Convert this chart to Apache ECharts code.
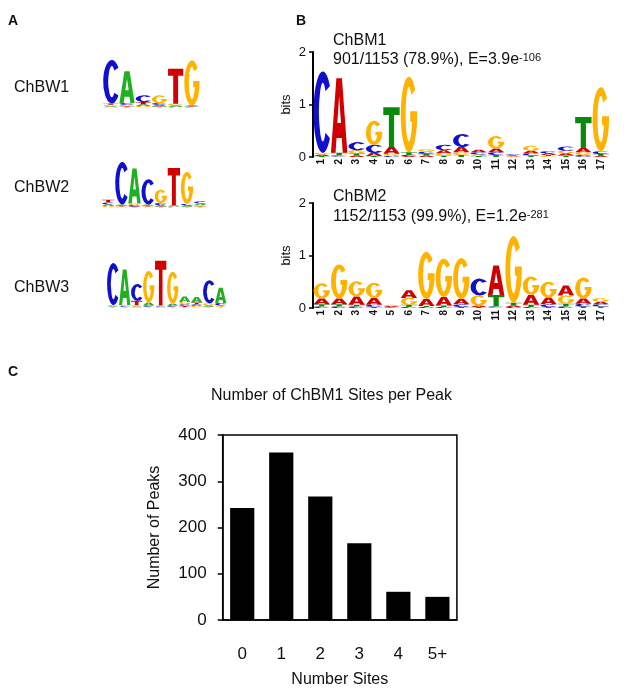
<!DOCTYPE html>
<html>
<head>
<meta charset="utf-8">
<script src="https://cdn.jsdelivr.net/npm/echarts@6/dist/echarts.min.js"></script>
<style>
  html, body { margin: 0; padding: 0; background: #fff; }
  #chart { width: 642px; height: 689px; }
</style>
</head>
<body>
<div id="chart"></div>
<script>
const FONT = "'Liberation Sans', Arial, Helvetica, sans-serif";

// panel C
const siteCategories = ['0', '1', '2', '3', '4', '5+'];
const peakCounts = [242, 362, 267, 166, 61, 50];

// logo positions (panel B)
const positions = ['1', '2', '3', '4', '5', '6', '7', '8', '9', '10', '11', '12', '13', '14', '15', '16', '17'];

// letter heights in bits, each row is [A, C, G, T]
const chbw1 = [
  [0.04, 1.55, 0.05, 0.05],
  [1.14, 0.06, 0.05, 0.04],
  [0.06, 0.23, 0.05, 0.08],
  [0.06, 0.06, 0.27, 0.03],
  [0.05, 0.02, 0.06, 1.25],
  [0.03, 0.02, 1.60, 0.02]
];
const chbw2 = [
  [0.06, 0.06, 0.05, 0.10],
  [0.04, 1.52, 0.03, 0.03],
  [1.25, 0.05, 0.06, 0.03],
  [0.04, 0.90, 0.03, 0.03],
  [0.05, 0.07, 0.48, 0.03],
  [0.03, 0.02, 0.02, 1.33],
  [0.05, 0.05, 1.14, 0.02],
  [0.06, 0.07, 0.05, 0.03]
];
const chbw3 = [
  [0.03, 1.50, 0.03, 0.02],
  [1.27, 0.03, 0.03, 0.02],
  [0.03, 0.60, 0.04, 0.16],
  [0.10, 0.05, 1.13, 0.02],
  [0.02, 0.02, 0.02, 1.60],
  [0.06, 0.05, 1.14, 0.02],
  [0.20, 0.06, 0.08, 0.05],
  [0.20, 0.06, 0.05, 0.06],
  [0.05, 0.83, 0.07, 0.02],
  [0.55, 0.08, 0.05, 0.02]
];
const chbm1 = [
  [0.03, 1.55, 0.03, 0.02],
  [1.42, 0.02, 0.01, 0.05],
  [0.03, 0.15, 0.06, 0.04],
  [0.06, 0.15, 0.46, 0.02],
  [0.13, 0.02, 0.04, 0.76],
  [0.02, 0.02, 1.44, 0.05],
  [0.03, 0.04, 0.05, 0.03],
  [0.06, 0.10, 0.04, 0.03],
  [0.10, 0.25, 0.05, 0.04],
  [0.05, 0.04, 0.03, 0.02],
  [0.07, 0.05, 0.24, 0.04],
  [0.01, 0.02, 0.01, 0.01],
  [0.05, 0.04, 0.09, 0.03],
  [0.03, 0.04, 0.02, 0.02],
  [0.04, 0.08, 0.05, 0.03],
  [0.08, 0.04, 0.05, 0.59],
  [0.02, 0.05, 1.22, 0.04]
];
const chbm2 = [
  [0.11, 0.03, 0.29, 0.04],
  [0.11, 0.03, 0.65, 0.04],
  [0.16, 0.03, 0.29, 0.03],
  [0.13, 0.04, 0.29, 0.02],
  [0.02, 0.01, 0.02, 0.01],
  [0.15, 0.02, 0.13, 0.04],
  [0.13, 0.02, 0.90, 0.02],
  [0.16, 0.02, 0.73, 0.03],
  [0.10, 0.05, 0.78, 0.02],
  [0.03, 0.32, 0.19, 0.02],
  [0.56, 0.02, 0.01, 0.22],
  [0.03, 0.02, 1.27, 0.05],
  [0.19, 0.02, 0.35, 0.04],
  [0.13, 0.05, 0.30, 0.02],
  [0.19, 0.03, 0.16, 0.05],
  [0.10, 0.05, 0.40, 0.03],
  [0.05, 0.04, 0.07, 0.03]
];

const BASES = ['A', 'C', 'G', 'T'];
// block letters drawn in a 100x100 box, stretched to each stack slot
const GLYPHS = {
  A: 'M0,100 L33,0 L67,0 L100,100 L72,100 L66,80 L34,80 L28,100 Z M39,60 L61,60 L50,24 Z',
  C: 'M88.3,17.9 A50,50 0 1 0 88.3,82.1 L64.1,75.5 A20,36 0 1 1 64.1,24.5 Z',
  G: 'M88.3,17.9 A50,50 0 1 0 100,56 L100,46 L58,46 L58,60 L69.2,60 A20,36 0 1 1 64.1,24.5 Z',
  T: 'M0,0 L100,0 L100,20 L66,20 L66,100 L34,100 L34,20 L0,20 Z'
};
const colorsA = { A: '#21b021', C: '#1010cc', G: '#ffb300', T: '#d00000' };
const colorsB = { A: '#d00000', C: '#1010cc', G: '#ffb300', T: '#0a8a0a' };

function renderLogo(colors) {
  return function (params, api) {
    const idx = api.value(0);
    const stack = BASES.map((b, i) => ({ b, h: api.value(i + 1) }))
      .sort((p, q) => p.h - q.h);
    const base = api.coord([idx, 0]);
    const bw = api.size([1, 0])[0] * 0.94;
    const unit = api.size([0, 1])[1];
    let y = base[1];
    const children = [];
    stack.forEach(item => {
      const hpx = item.h * unit;
      if (hpx < 0.3) return;
      children.push({
        type: 'path',
        shape: { pathData: GLYPHS[item.b], x: base[0] - bw / 2, y: y - hpx, width: bw, height: hpx, layout: 'cover' },
        style: { fill: colors[item.b] }
      });
      y -= hpx;
    });
    return { type: 'group', children };
  };
}

function logoSeries(rows, axisIndex, colors) {
  return {
    type: 'custom',
    xAxisIndex: axisIndex,
    yAxisIndex: axisIndex,
    clip: false,
    silent: true,
    encode: { x: 0, y: 1 },
    data: rows.map((r, i) => [i].concat(r)),
    renderItem: renderLogo(colors)
  };
}

function hiddenAxes(gridIndex, count) {
  return {
    x: { gridIndex, type: 'category', data: positions.slice(0, count), show: false },
    y: { gridIndex, type: 'value', min: 0, max: 2, show: false }
  };
}

function bitsAxes(gridIndex) {
  return {
    x: {
      gridIndex, type: 'category', data: positions,
      axisLine: { show: false }, axisTick: { show: false },
      axisLabel: { rotate: 90, margin: 2, fontSize: 10, fontWeight: 'bold', color: '#111', fontFamily: FONT, interval: 0 }
    },
    y: {
      gridIndex, type: 'value', min: 0, max: 2, interval: 1,
      name: 'bits', nameLocation: 'middle', nameGap: 20, nameRotate: 90,
      nameTextStyle: { fontSize: 13, color: '#111', fontFamily: FONT },
      axisLine: { show: true, lineStyle: { color: '#000', width: 2 } },
      axisTick: { show: true, length: 4, lineStyle: { color: '#000', width: 1.5 } },
      axisLabel: { fontSize: 13, margin: 7, color: '#111', fontFamily: FONT },
      splitLine: { show: false }
    }
  };
}

const axes = [
  hiddenAxes(0, 6), hiddenAxes(1, 8), hiddenAxes(2, 10),
  bitsAxes(3), bitsAxes(4)
];

const barX = {
  gridIndex: 5, type: 'category', data: siteCategories,
  name: 'Number Sites', nameLocation: 'middle', nameGap: 52,
  nameTextStyle: { fontSize: 16, color: '#111', fontFamily: FONT },
  axisLine: { lineStyle: { color: '#000', width: 1.5 } },
  axisTick: { length: 7, interval: 0, lineStyle: { color: '#000', width: 1.5 } },
  axisLabel: { fontSize: 17, margin: 26, color: '#111', fontFamily: FONT }
};
const barY = {
  gridIndex: 5, type: 'value', min: 0, max: 400, interval: 100,
  name: 'Number of Peaks', nameLocation: 'middle', nameGap: 60, nameRotate: 90,
  nameTextStyle: { fontSize: 16, color: '#111', fontFamily: FONT },
  axisLine: { show: true, lineStyle: { color: '#000', width: 1.5 } },
  axisTick: { show: true, length: 5, lineStyle: { color: '#000', width: 1.5 } },
  axisLabel: { fontSize: 17, margin: 16, color: '#111', fontFamily: FONT },
  splitLine: { show: false }
};

function label(text, x, y, size, weight) {
  return {
    type: 'text', x, y,
    style: { text, fontSize: size, fontWeight: weight || 'normal', fontFamily: FONT, fill: '#111', verticalAlign: 'middle' }
  };
}

function statLine(main, sup, x, y) {
  return {
    type: 'text', x, y,
    style: {
      text: '{m|' + main + '}{s|' + sup + '}',
      verticalAlign: 'middle',
      rich: {
        m: { fontSize: 16, fontFamily: FONT, fill: '#111', verticalAlign: 'bottom' },
        s: { fontSize: 11, fontFamily: FONT, fill: '#111', verticalAlign: 'top' }
      }
    }
  };
}

const chart = echarts.init(document.getElementById('chart'));
chart.setOption({
  animation: false,
  textStyle: { fontFamily: FONT },
  grid: [
    { left: 102.7, top: 51.3, width: 97.3, height: 56 },
    { left: 101.7, top: 151.3, width: 105, height: 56 },
    { left: 106.7, top: 251.3, width: 120, height: 56 },
    { left: 313, top: 52, width: 296.5, height: 105 },
    { left: 313, top: 203, width: 296.5, height: 105 },
    { left: 222.7, top: 435, width: 234.2, height: 189, show: true, borderColor: '#000', borderWidth: 1.5 }
  ],
  xAxis: axes.map(a => a.x).concat([barX]),
  yAxis: axes.map(a => a.y).concat([barY]),
  series: [
    logoSeries(chbw1, 0, colorsA),
    logoSeries(chbw2, 1, colorsA),
    logoSeries(chbw3, 2, colorsA),
    logoSeries(chbm1, 3, colorsB),
    logoSeries(chbm2, 4, colorsB),
    {
      type: 'bar',
      xAxisIndex: 5,
      yAxisIndex: 5,
      data: peakCounts,
      barCategoryGap: '38%',
      itemStyle: { color: '#000' }
    }
  ],
  graphic: [
    label('A', 8, 21, 14, 'bold'),
    label('B', 296, 21, 14, 'bold'),
    label('C', 8, 372, 14, 'bold'),
    label('ChBW1', 14, 88, 16),
    label('ChBW2', 14, 188, 16),
    label('ChBW3', 14, 288, 16),
    label('ChBM1', 333, 41, 16),
    statLine('901/1153 (78.9%), E=3.9e', '-106', 333, 60),
    label('ChBM2', 333, 197, 16),
    statLine('1152/1153 (99.9%), E=1.2e', '-281', 333, 217),
    {
      type: 'text', x: 331.5, y: 396,
      style: { text: 'Number of ChBM1 Sites per Peak', fontSize: 16, fontFamily: FONT, fill: '#111', align: 'center', verticalAlign: 'middle' }
    }
  ]
});
</script>
</body>
</html>
